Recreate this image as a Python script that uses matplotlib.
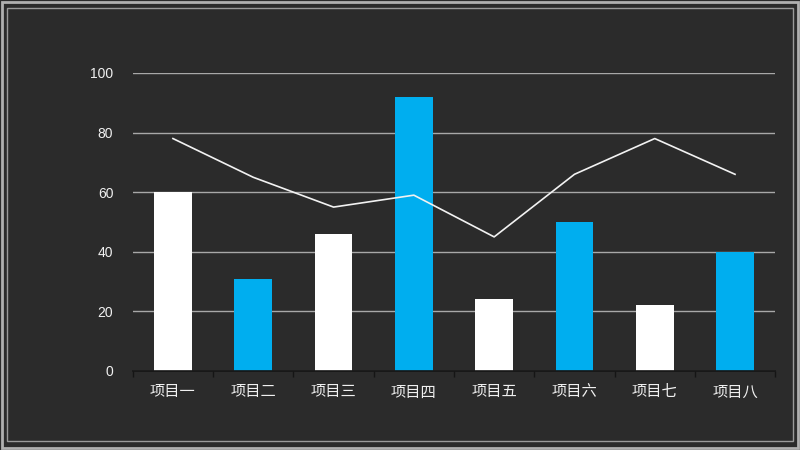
import matplotlib
matplotlib.use("Agg")
import matplotlib.pyplot as plt
from matplotlib.patches import Rectangle

plt.rcParams['font.family'] = ['Liberation Sans', 'Noto Sans CJK SC', 'DejaVu Sans']

categories = ["项目一", "项目二", "项目三", "项目四", "项目五", "项目六", "项目七", "项目八"]
bar_values = [60, 31, 46, 92, 24, 50, 22, 40]
line_values = [78, 65, 55, 59, 45, 66, 78, 66]
bar_colors = ["#ffffff", "#00aeef"] * 4

bg = "#2b2b2b"
fig = plt.figure(figsize=(8, 4.5), dpi=100, facecolor=bg)

# chalkboard frame
fig.patches.append(Rectangle((0.003, 0.005), 0.994, 0.99, transform=fig.transFigure,
                             fill=False, edgecolor="#b0b0b0", linewidth=2.0))
fig.patches.append(Rectangle((0.009, 0.02), 0.982, 0.962, transform=fig.transFigure,
                             fill=False, edgecolor="#9a9a9a", linewidth=1.0))

ax = fig.add_axes([0.166, 0.1756, 0.803, 0.6622])
ax.set_facecolor("none")

x = list(range(len(categories)))
ax.bar(x, bar_values, width=0.47, color=bar_colors, zorder=3)
ax.plot(x, line_values, color="#f2f2f2", linewidth=1.2, zorder=4)

ax.set_xlim(-0.5, len(categories) - 0.5)
ax.set_ylim(0, 100)
ax.set_yticks([0, 20, 40, 60, 80, 100])
ax.yaxis.grid(True, color="#a8a8a8", linewidth=1.0, zorder=1)
ax.set_axisbelow(True)

ax.set_xticks(x)
ax.set_xticklabels(categories, color="#f0f0f0", fontsize=11,
                   family=['Noto Sans CJK SC', 'DejaVu Sans'])
ax.set_xticks([i + 0.5 for i in range(-1, len(categories))], minor=True)
ax.tick_params(axis="x", which="major", length=0, pad=9)
ax.tick_params(axis="x", which="minor", length=4, color="#151515", width=1)
ax.tick_params(axis="y", length=0, labelsize=10, labelcolor="#f0f0f0", pad=14)

for s in ["top", "right", "left"]:
    ax.spines[s].set_visible(False)
ax.spines["bottom"].set_color("#151515")
ax.spines["bottom"].set_linewidth(1.2)
ax.spines["bottom"].set_zorder(5)

fig.savefig("out.png", dpi=100, facecolor=bg)
